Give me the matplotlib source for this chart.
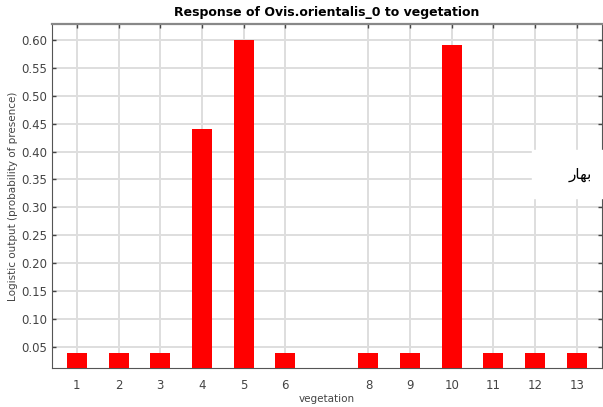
import matplotlib
matplotlib.use("Agg")
import matplotlib.pyplot as plt

# vegetation classes (class 7 has no data) and logistic output
classes = [1, 2, 3, 4, 5, 6, 8, 9, 10, 11, 12, 13]
response = [0.04, 0.04, 0.04, 0.44, 0.60, 0.04, 0.04, 0.04, 0.59, 0.04, 0.04, 0.04]
yticks = [0.05, 0.10, 0.15, 0.20, 0.25, 0.30, 0.35, 0.40, 0.45, 0.50, 0.55, 0.60]
note = "\uFEAD\uFE8E\uFEEC\uFE91"  # "بهار" in shaped (visual) form

fig = plt.figure(figsize=(6.03, 4.07), dpi=100)
ax = fig.add_axes([0.086, 0.096, 0.912, 0.845])

ax.bar(classes, response, width=0.48, color="#ff0000", zorder=3)

ax.set_xlim(0.4, 13.6)
ax.set_ylim(0.013, 0.628)
ax.set_xticks(classes)
ax.set_yticks(yticks)
ax.set_yticklabels([f"{v:.2f}" for v in yticks])
ax.grid(True, color="#dedede", lw=1.4, zorder=0)
ax.tick_params(direction="in", length=3, width=1, colors="#444444",
               labelcolor="#444444", labelsize=8.5,
               top=True, right=True, bottom=True, left=True)
ax.tick_params(axis="x", pad=8)
for s in ax.spines.values():
    s.set_color("#555555")
ax.spines["top"].set_color("#888888")
ax.spines["top"].set_linewidth(1.6)

ax.set_title("Response of Ovis.orientalis_0 to vegetation",
             fontsize=9, fontweight="bold", pad=6)
ax.set_xlabel("vegetation", fontsize=7.5, color="#444444", labelpad=1.5)
ax.set_ylabel("Logistic output (probability of presence)", fontsize=7.5,
              color="#444444", labelpad=2)

# white overlay box with Persian word on the right
fig.patches.append(plt.Rectangle((532 / 603, 1 - 198 / 407), 71 / 603, 48 / 407,
                                 transform=fig.transFigure, color="white",
                                 zorder=5))
fig.text(580 / 603, 1 - 174 / 407, note, fontsize=11, ha="center",
         va="center", zorder=6)

fig.savefig("out.png", dpi=100)
